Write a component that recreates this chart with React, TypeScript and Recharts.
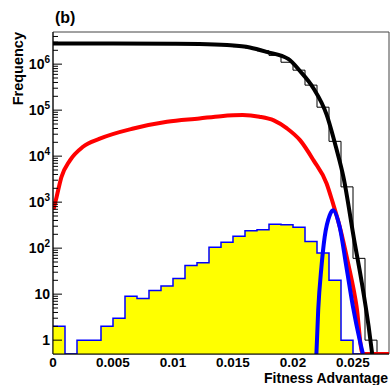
import React from 'react';
import { ComposedChart, Line, Area, XAxis, YAxis, ReferenceArea } from 'recharts';

// ---- data ----
const BIN_WIDTH = 0.001;
const FLOOR = 0.5; // bottom of the log axis; empty bins are drawn here

// yellow histogram (blue outline), one count per 0.001 bin from 0 to 0.028
const yellowCounts = [2, 0, 1, 1, 2, 3, 9, 8, 12, 15, 22, 42, 48, 104, 135, 182, 238, 250, 332, 321, 286, 140, 78, 20, 1, 0, 0, 0];

// thin black histogram, one count per 0.001 bin from 0 to 0.028
const blackCounts = [
  2.8e6, 2.8e6, 2.8e6, 2.8e6, 2.8e6, 2.8e6, 2.8e6, 2.78e6, 2.78e6, 2.76e6,
  2.75e6, 2.74e6, 2.72e6, 2.65e6, 2.55e6, 2.4e6, 2.25e6, 1.95e6, 1.55e6, 1.1e6,
  7.4e5, 3.5e5, 1.16e5, 2.1e4, 2150, 60, 1, 0,
];

// thick black curve
const blackCurveX = [0, 0.005, 0.01, 0.0122, 0.0145, 0.0164, 0.0178, 0.0196, 0.0206, 0.0217, 0.0228, 0.0236, 0.0242, 0.0251, 0.0257, 0.0263, 0.0266];
const blackCurveY = [2.8e6, 2.8e6, 2.78e6, 2.75e6, 2.6e6, 2.3e6, 1.85e6, 1.3e6, 7.0e5, 3.0e5, 8.0e4, 1.5e4, 3550, 150, 20, 2, 0.5];

// thick red curve
const redX = [0.00005, 0.0003, 0.0007, 0.0014, 0.0025, 0.0039, 0.0067, 0.0095, 0.0122, 0.014, 0.0158, 0.0172, 0.0184, 0.0195, 0.0206, 0.0217, 0.0228, 0.0233, 0.0239, 0.0246, 0.0253, 0.0258, 0.028];
const redY = [700, 1300, 3500, 8000, 16000, 24000, 40000, 56000, 66000, 74000, 78000, 72000, 60000, 40000, 22000, 8200, 2550, 1000, 290, 46, 5.3, 0.5, 0.5];

// thick blue curve
const blueX = [0.02195, 0.0221, 0.02237, 0.02264, 0.02306, 0.02333, 0.02389, 0.02445, 0.025, 0.02556, 0.02583];
const blueY = [0.5, 4.5, 39, 176, 521, 670, 290, 39, 5.3, 1, 0.5];

const xTicks = [0, 0.005, 0.01, 0.015, 0.02, 0.025];
const xTickLabels = ['0', '0.005', '0.01', '0.015', '0.02', '0.025'];
const yMajorTicks = [1, 10, 100, 1000, 1e4, 1e5, 1e6];
const yMajorLabels: [string, string][] = [['1', ''], ['10', ''], ['10', '2'], ['10', '3'], ['10', '4'], ['10', '5'], ['10', '6']];

const X_DOMAIN: [number, number] = [0, 0.028];
const Y_DOMAIN: [number, number] = [0.5, 5e6];

// ---- built from the arrays above ----
const yMinorTicks: number[] = [];
for (const d of [1, 10, 100, 1000, 1e4, 1e5, 1e6]) {
  for (let m = 2; m <= 9; m++) {
    const v = m * d;
    if (v < Y_DOMAIN[1]) yMinorTicks.push(v);
  }
}
const yTicks = [...yMajorTicks, ...yMinorTicks].sort((a, b) => a - b);

const histData = (counts: number[]) => {
  const pts = counts.map((c, i) => ({ x: i * BIN_WIDTH, y: Math.max(c, FLOOR) }));
  pts.push({ x: counts.length * BIN_WIDTH, y: Math.max(counts[counts.length - 1], FLOOR) });
  return pts;
};
const zipXY = (xs: number[], ys: number[]) => xs.map((x, i) => ({ x, y: ys[i] }));

const yellowData = histData(yellowCounts);
const blackHistData = histData(blackCounts);
const blackCurveData = zipXY(blackCurveX, blackCurveY);
const redData = zipXY(redX, redY);
const blueData = zipXY(blueX, blueY);

const FONT = '"Liberation Sans", Arial, Helvetica, sans-serif';
const Y_TICK_MARGIN = 3;

const YTick = (props: any) => {
  const { x, y, payload } = props;
  const v = payload.value as number;
  const idx = yMajorTicks.findIndex((t) => Math.abs(t - v) < 1e-9 * t);
  const axisX = x + Y_TICK_MARGIN;
  const major = idx >= 0;
  return (
    <g>
      <line x1={axisX} x2={axisX + (major ? 9 : 5)} y1={y} y2={y} stroke="#000" strokeWidth={1} />
      {major && (
        <text x={x} y={y + 5} textAnchor="end" fontFamily={FONT} fontWeight="bold" fontSize={14} fill="#000">
          <tspan>{yMajorLabels[idx][0]}</tspan>
          {yMajorLabels[idx][1] && (
            <tspan dy={-6} fontSize={10}>{yMajorLabels[idx][1]}</tspan>
          )}
        </text>
      )}
    </g>
  );
};

const XTick = (props: any) => {
  const { x, y, payload } = props;
  const idx = xTicks.findIndex((t) => Math.abs(t - payload.value) < 1e-9);
  return (
    <text x={x} y={y + 13} textAnchor="middle" fontFamily={FONT} fontWeight="bold" fontSize={13.5} fill="#000">
      {idx >= 0 ? xTickLabels[idx] : ''}
    </text>
  );
};

export default function App() {
  return (
    <div style={{ position: 'absolute', left: 0, top: 0, width: 390, height: 385, background: '#fff' }}>
      <ComposedChart width={390} height={385} margin={{ top: 32, right: 1, bottom: 0, left: 0 }}>
        <XAxis
          type="number"
          dataKey="x"
          domain={X_DOMAIN}
          ticks={xTicks}
          allowDataOverflow
          height={31}
          tickSize={0}
          tickMargin={0}
          tickLine={false}
          axisLine={{ stroke: '#000' }}
          tick={<XTick />}
          interval={0}
        />
        <YAxis
          type="number"
          dataKey="y"
          scale="log"
          domain={Y_DOMAIN}
          ticks={yTicks}
          allowDataOverflow
          width={53}
          tickSize={0}
          tickMargin={Y_TICK_MARGIN}
          tickLine={false}
          axisLine={{ stroke: '#000' }}
          tick={<YTick />}
          interval={0}
        />
        <ReferenceArea x1={X_DOMAIN[0]} x2={X_DOMAIN[1]} y1={Y_DOMAIN[0]} y2={Y_DOMAIN[1]} fill="none" fillOpacity={0} stroke="#444" strokeWidth={1} />
        <Area
          data={yellowData}
          dataKey="y"
          type="stepAfter"
          baseValue={FLOOR}
          fill="#ffff00"
          fillOpacity={1}
          stroke="#0000ff"
          strokeWidth={1.5}
          dot={false}
          activeDot={false}
          isAnimationActive={false}
        />
        <Line data={blackHistData} dataKey="y" type="stepAfter" stroke="#000" strokeWidth={1} dot={false} activeDot={false} isAnimationActive={false} />
        <Line data={redData} dataKey="y" type="monotone" stroke="#ff0000" strokeWidth={4} dot={false} activeDot={false} isAnimationActive={false} />
        <Line data={blueData} dataKey="y" type="monotone" stroke="#0000ff" strokeWidth={4} dot={false} activeDot={false} isAnimationActive={false} />
        <Line data={blackCurveData} dataKey="y" type="monotone" stroke="#000" strokeWidth={4} dot={false} activeDot={false} isAnimationActive={false} />
      </ComposedChart>
      <svg width={390} height={385} style={{ position: 'absolute', left: 0, top: 0, pointerEvents: 'none' }}>
        <text x={55} y={23} fontFamily={FONT} fontWeight="bold" fontSize={16} fill="#000">(b)</text>
        <text x={23} y={32} transform="rotate(-90 23 32)" textAnchor="end" fontFamily={FONT} fontWeight="bold" fontSize={14.5} fill="#000">Frequency</text>
        <text x={388} y={383} textAnchor="end" fontFamily={FONT} fontWeight="bold" fontSize={14} fill="#000">Fitness Advantage</text>
      </svg>
    </div>
  );
}
